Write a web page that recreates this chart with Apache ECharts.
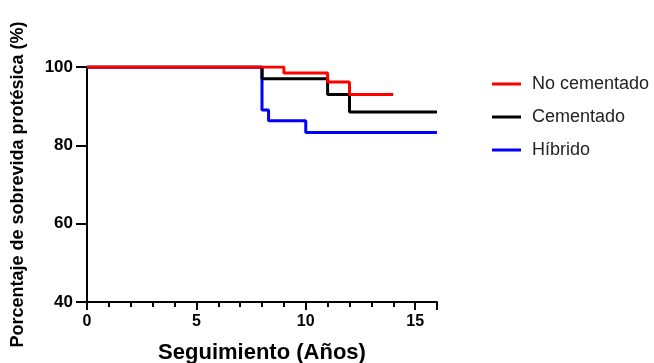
<!DOCTYPE html>
<html>
<head>
<meta charset="utf-8">
<script src="https://cdn.jsdelivr.net/npm/echarts@6/dist/echarts.min.js"></script>
<style>
  html, body { margin: 0; padding: 0; background: #fff; }
  #chart { width: 654px; height: 363px; }
</style>
</head>
<body>
<div id="chart"></div>
<script>
// Kaplan-Meier steps: [años, %]
const seriesNames = ['No cementado', 'Cementado', 'Híbrido']
const seriesColors = ['#ff0000', '#000000', '#0000ff']
const noCementado = [[0, 100], [9, 98.5], [11, 96.2], [12, 93], [14, 93]]
const cementado = [[0, 100], [8, 97], [11, 93], [12, 88.5], [16, 88.5]]
const hibrido = [[0, 100], [8, 89], [8.3, 86.3], [10, 83.3], [16, 83.3]]

const chart = echarts.init(document.getElementById('chart'))
const font = 'Liberation Sans, Arial, sans-serif'

function stepSeries(name, data, color, z) {
  return {
    name,
    type: 'line',
    step: 'end',
    data,
    symbol: 'none',
    z,
    lineStyle: { color, width: 3 },
    itemStyle: { color },
  }
}

chart.setOption({
  animation: false,
  grid: { left: 87, right: 217, top: 67, bottom: 61, outerBoundsMode: 'none' },
  legend: {
    orient: 'vertical',
    left: 487,
    top: 70,
    itemWidth: 29,
    itemHeight: 3,
    itemGap: 15,
    icon: 'rect',
    data: seriesNames,
    textStyle: { fontFamily: font, fontSize: 18, color: '#222', padding: [0, 0, 0, 6] },
  },
  xAxis: {
    type: 'value',
    min: 0,
    max: 16,
    interval: 5,
    name: 'Seguimiento (Años)',
    nameLocation: 'middle',
    nameGap: 40,
    nameTextStyle: { fontFamily: font, fontSize: 22, fontWeight: 'bold', color: '#000' },
    axisLine: { onZero: false, lineStyle: { color: '#000', width: 2 } },
    axisTick: { show: true, length: 8, lineStyle: { width: 2 } },
    minorTick: { show: true, splitNumber: 5, length: 5, lineStyle: { color: '#000', width: 2 } },
    axisLabel: { fontFamily: font, fontSize: 16, fontWeight: 'bold', color: '#000', margin: 12, showMaxLabel: false },
    splitLine: { show: false },
  },
  yAxis: {
    type: 'value',
    min: 40,
    max: 100,
    interval: 20,
    name: 'Porcentaje de sobrevida protésica (%)',
    nameLocation: 'middle',
    nameGap: 60,
    nameTextStyle: { fontFamily: font, fontSize: 18, fontWeight: 'bold', color: '#000' },
    axisLine: { show: true, onZero: false, lineStyle: { color: '#000', width: 2 } },
    axisTick: { show: true, length: 11, lineStyle: { width: 2 } },
    axisLabel: { fontFamily: font, fontSize: 17, fontWeight: 'bold', color: '#000', margin: 14 },
    splitLine: { show: false },
  },
  series: [
    stepSeries(seriesNames[0], noCementado, seriesColors[0], 4),
    stepSeries(seriesNames[1], cementado, seriesColors[1], 3),
    stepSeries(seriesNames[2], hibrido, seriesColors[2], 2),
  ],
})
</script>
</body>
</html>
